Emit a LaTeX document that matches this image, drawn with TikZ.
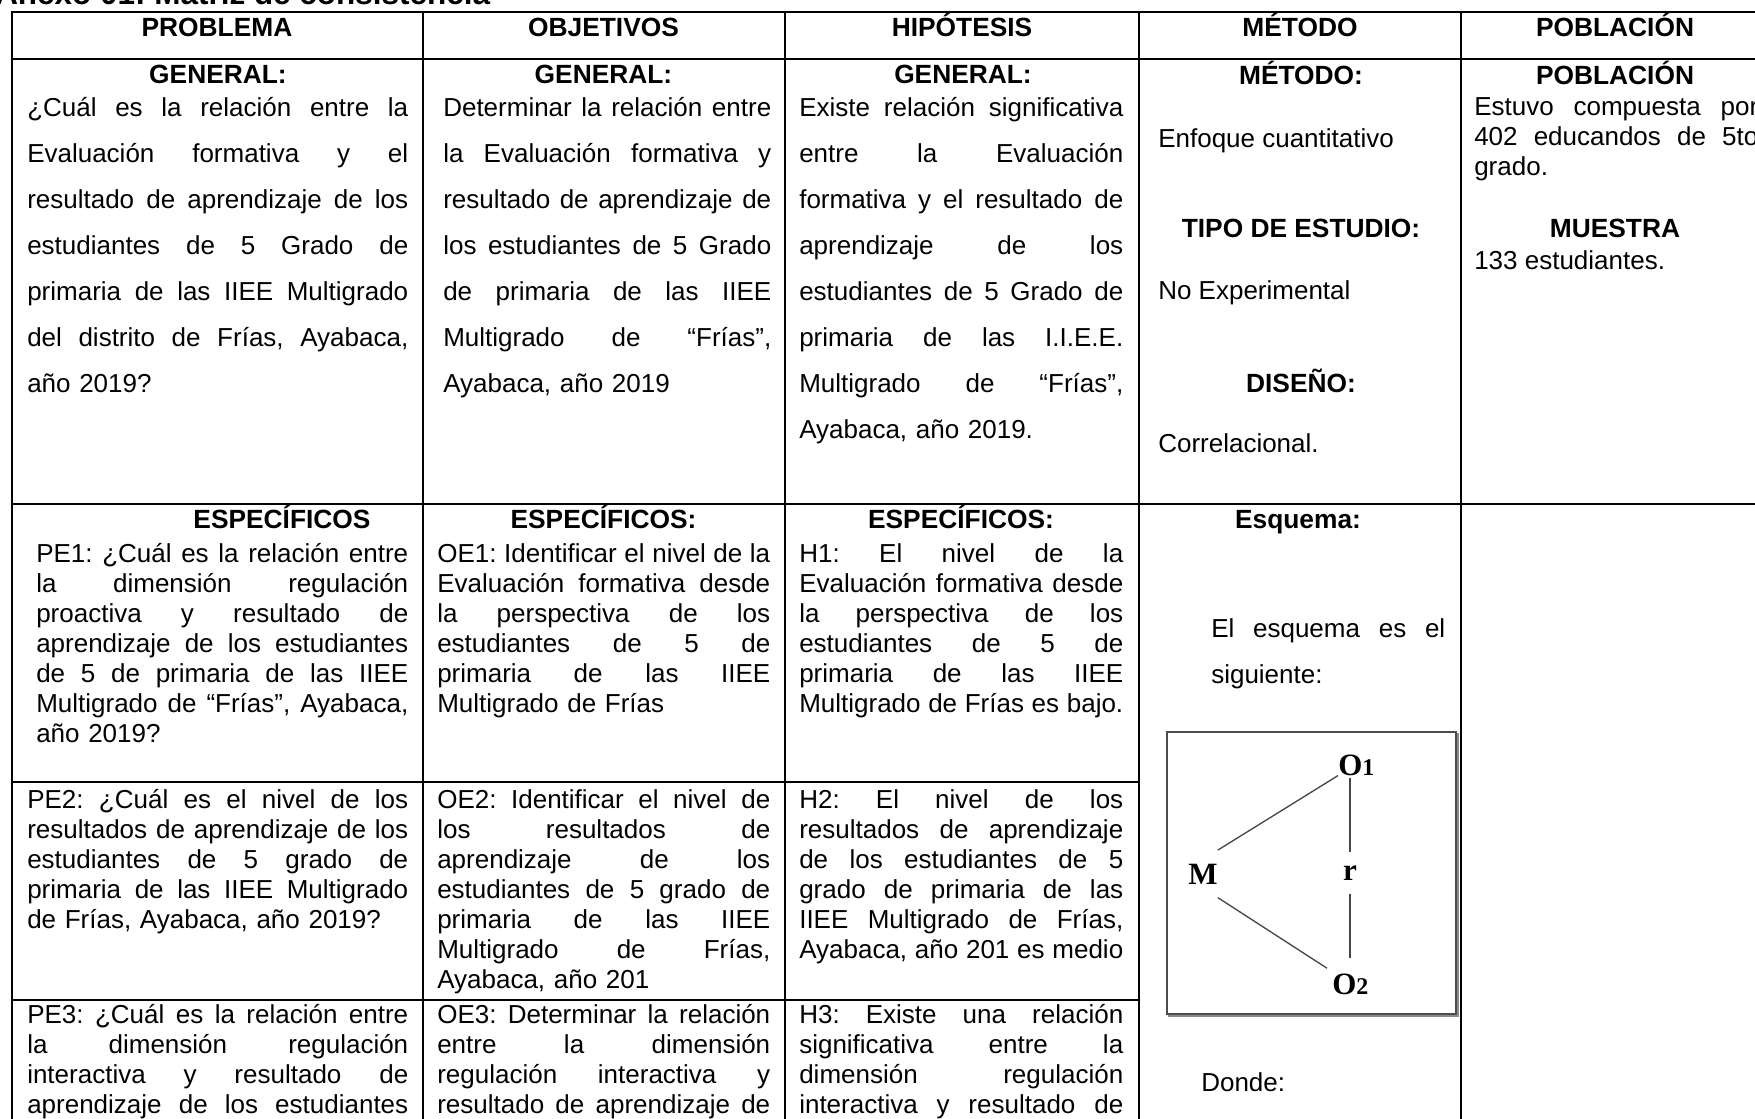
\documentclass[tikz,border=0pt]{standalone}
\usepackage{fontspec}
\setmainfont{Liberation Sans}
\newfontfamily\schemefont{Liberation Serif}
\usetikzlibrary{calc}
\frenchspacing
\newcommand\jx[1]{\makebox[\hsize][s]{\spaceskip=0pt\xspaceskip=0pt\relax#1}}
\newcommand\jl[1]{\jx{#1}\\}
\newcommand\fa{\fontsize{19.5}{34.5}\selectfont\frenchspacing}
\newcommand\fb{\fontsize{19.5}{22.5}\selectfont\frenchspacing}
\newcommand\fh{\fontsize{19.75}{22.5}\selectfont\bfseries}
\begin{document}
\begin{tikzpicture}[x=0.75pt,y=-0.75pt,
  grid/.style={line width=1.5pt,line cap=rect},
  head/.style={anchor=base,inner sep=0,font=\fh},
  cellA/.style={anchor=base west,inner sep=0,align=left,font=\fa},
  cellB/.style={anchor=base west,inner sep=0,align=left,font=\fb},
  plain/.style={anchor=base west,inner sep=0,font=\fb},
  sch/.style={font=\schemefont\bfseries\fontsize{23.25}{24}\selectfont,inner sep=0},
  schline/.style={draw=black!72,line width=1pt}]
\useasboundingbox (0,0) rectangle (1755,1118);
% title
\node[anchor=base west,inner sep=0,font=\fontsize{23.6}{24}\selectfont\bfseries] (title) at (-5,4) {Anexo 01: Matriz de consistencia};
% grid
\draw[grid] (12.3,12) -- (1800,12);
\draw[grid] (12.3,59) -- (1800,59);
\draw[grid] (12.3,504) -- (1800,504);
\draw[grid] (12.3,781.5) -- (1139.3,781.5);
\draw[grid] (12.3,999.5) -- (1139.3,999.5);
\foreach \x in {12.3,422.5,785,1139.3,1460.7} \draw[grid] (\x,12) -- (\x,1140);
% headers
\node[head] (hP) at (217,36) {PROBLEMA};
\node[head] (hO) at (603.5,36) {OBJETIVOS};
\node[head] (hH) at (962,36) {HIPÓTESIS};
\node[head] (hM) at (1300,36) {MÉTODO};
\node[head] (hB) at (1615,36) {POBLACIÓN};
% row 1
\node[head] (g1) at (218,83) {GENERAL:};
\node[head] (g2) at (603.5,83) {GENERAL:};
\node[head] (g3) at (963,83) {GENERAL:};
\node[head] (g4) at (1301,84) {MÉTODO:};
\node[head] (g5) at (1615,84) {POBLACIÓN};
\node[cellA,text width=285.75pt] (p0) at (27,116) {\jl{¿Cuál es la relación entre la}\jl{Evaluación formativa y el}\jl{resultado de aprendizaje de los}\jl{estudiantes de 5 Grado de}\jl{primaria de las IIEE Multigrado}\jl{del distrito de Frías, Ayabaca,}año 2019?};
\node[cellA,text width=246pt] (o0) at (443,116) {\jl{Determinar la relación entre}\jl{la Evaluación formativa y}\jl{resultado de aprendizaje de}\jl{los estudiantes de 5 Grado}\jl{de primaria de las IIEE}\jl{Multigrado de “Frías”,}Ayabaca, año 2019};
\node[cellA,text width=243pt] (h0) at (799,116) {\jl{Existe relación significativa}\jl{entre la Evaluación}\jl{formativa y el resultado de}\jl{aprendizaje de los}\jl{estudiantes de 5 Grado de}\jl{primaria de las I.I.E.E.}\jl{Multigrado de “Frías”,}Ayabaca, año 2019.};
\node[plain] (m1) at (1158,147) {Enfoque cuantitativo};
\node[head] (m2) at (1301,237) {TIPO DE ESTUDIO:};
\node[plain] (m3) at (1158,299) {No Experimental};
\node[head] (m4) at (1301,392) {DISEÑO:};
\node[plain] (m5) at (1158,452) {Correlacional.};
\node[cellB,text width=213pt] (b1) at (1474,115) {\jl{Estuvo compuesta por}\jl{402 educandos de 5to}grado.};
\node[head] (b2) at (1615,237.5) {MUESTRA};
\node[plain] (b3) at (1474,269) {133 estudiantes.};
% row 2
\node[head] (e1) at (282,528.5) {ESPECÍFICOS};
\node[head] (e2) at (603.5,528.5) {ESPECÍFICOS:};
\node[head] (e3) at (961,528.5) {ESPECÍFICOS:};
\node[head] (e4) at (1298,528.5) {Esquema:};
\node[cellB,text width=279pt] (pe1) at (36,562) {\jl{PE1: ¿Cuál es la relación entre}\jl{la dimensión regulación}\jl{proactiva y resultado de}\jl{aprendizaje de los estudiantes}\jl{de 5 de primaria de las IIEE}\jl{Multigrado de “Frías”, Ayabaca,}año 2019?};
\node[cellB,text width=249.75pt] (oe1) at (437,562) {\jl{OE1: Identificar el nivel de la}\jl{Evaluación formativa desde}\jl{la perspectiva de los}\jl{estudiantes de 5 de}\jl{primaria de las IIEE}Multigrado de Frías};
\node[cellB,text width=243pt] (h1) at (799,562) {\jl{H1: El nivel de la}\jl{Evaluación formativa desde}\jl{la perspectiva de los}\jl{estudiantes de 5 de}\jl{primaria de las IIEE}\jx{Multigrado de Frías es bajo.}};
\node[cellA,text width=175.5pt] (es) at (1211,637) {\jl{El esquema es el}siguiente:};
\node[cellB,text width=285.75pt] (pe2) at (27,808) {\jl{PE2: ¿Cuál es el nivel de los}\jl{resultados de aprendizaje de los}\jl{estudiantes de 5 grado de}\jl{primaria de las IIEE Multigrado}de Frías, Ayabaca, año 2019?};
\node[cellB,text width=249.75pt] (oe2) at (437,808) {\jl{OE2: Identificar el nivel de}\jl{los resultados de}\jl{aprendizaje de los}\jl{estudiantes de 5 grado de}\jl{primaria de las IIEE}\jl{Multigrado de Frías,}Ayabaca, año 201};
\node[cellB,text width=243pt] (h2) at (799,808) {\jl{H2: El nivel de los}\jl{resultados de aprendizaje}\jl{de los estudiantes de 5}\jl{grado de primaria de las}\jl{IIEE Multigrado de Frías,}\jx{Ayabaca, año 201 es medio}};
\node[cellB,text width=285.75pt] (pe3) at (27,1023) {\jl{PE3: ¿Cuál es la relación entre}\jl{la dimensión regulación}\jl{interactiva y resultado de}\jx{aprendizaje de los estudiantes}};
\node[cellB,text width=249.75pt] (oe3) at (437,1023) {\jl{OE3: Determinar la relación}\jl{entre la dimensión}\jl{regulación interactiva y}\jx{resultado de aprendizaje de}};
\node[cellB,text width=243pt] (h3) at (799,1023) {\jl{H3: Existe una relación}\jl{significativa entre la}\jl{dimensión regulación}\jx{interactiva y resultado de}};
\node[plain] (dn) at (1201,1091) {Donde:};
% scheme
\draw[line width=2.2pt,black!45] (1169,734) rectangle (1457.5,1015.5);
\draw[fill=white,draw=black!70,line width=1.1pt] (1167,732) rectangle (1456,1014);
\node[sch,anchor=base west] (O1) at (1338,775) {O{\fontsize{18}{18}\selectfont 1}};
\node[sch,anchor=base west,inner xsep=0pt,inner ysep=10pt] (M) at (1188,884) {M};
\node[sch,anchor=base west,inner sep=3.75pt] (O2) at (1327,994) {O{\fontsize{18}{18}\selectfont 2}};
\node[sch,minimum height=31.5pt] (r) at (1350,873) {r};
\draw[schline] (M.north east) -- (O1.south west);
\draw[schline] (M.south east) -- (O2.north west);
\draw[schline,shorten >=2pt] (r.north) -- (r.north |- O1.south);
\draw[schline,shorten >=8pt] (r.south) -- (r.south |- O2.north);
\end{tikzpicture}
\end{document}
